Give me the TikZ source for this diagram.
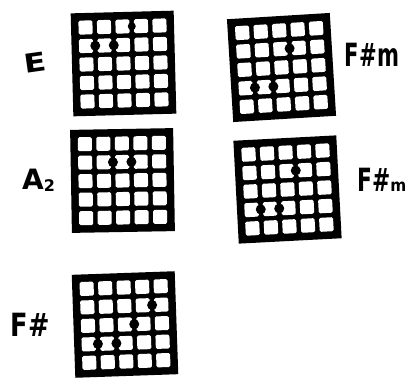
\documentclass[tikz,border=0pt]{standalone}
\usepackage{graphicx}
\usepackage{fontspec}
\setmainfont{DejaVu Sans}
\tikzset{
  gridbox/.style={fill=black, draw=none, minimum size=103pt, inner sep=0pt, outer sep=0pt, transform shape},
  cell/.style={fill=white, rounded corners=1.5pt},
  fingerdot/.style={fill=black},
  chordlabel/.style={inner sep=0pt, font=\bfseries}
}
\newcommand\chordgrid[5]{%
  \begin{scope}[shift={(#2,#3)}, rotate=#4]
    \node[gridbox] (#1) at (0,0) {};
    \foreach \c in {0,...,4}{\foreach \r in {0,...,4}{
      \fill[cell] ({-44+18.5*\c},{-44+18.5*\r}) rectangle ++(14,14);
    }}
    \foreach \k/\j in {#5}{
      \fill[fingerdot] ({18.5*\k-46.25},{18.5*\j-55.5}) circle[radius=5];
    }
  \end{scope}}
\begin{document}
\begin{tikzpicture}[x=1pt,y=-1pt]
  \fill[white] (0,0) rectangle (409,377);
  \useasboundingbox (0,0) rectangle (409,377);
  % grids
  \chordgrid{gE}{123.5}{63.5}{1.5}{1/2,2/2}
  \begin{scope}[shift={(123.5,63.5)}, rotate=1.5]
    \fill[fingerdot] ({18.5*3-46.25},-37) circle[radius=4];
  \end{scope}
  \chordgrid{gFsmA}{281.5}{67.5}{3.5}{3/2,1/4,2/4}
  \chordgrid{gA}{122.5}{180.5}{1}{2/2,3/2}
  \chordgrid{gFsmB}{287.5}{189.5}{3}{3/2,1/4,2/4}
  \chordgrid{gFs}{125}{324.5}{2}{4/2,3/3,1/4,2/4}
  % labels
  \node[chordlabel, rotate=8] (lE) at (35,63) {\fontsize{26}{26}\selectfont\scalebox{1.25}[1]{E}};
  \node[chordlabel] (lFsmA) at (372,55) {\fontsize{32}{32}\selectfont\scalebox{0.66}[1]{F\#m}};
  \node[chordlabel, anchor=base west] (lA) at (22,189) {\fontsize{28}{28}\selectfont A\raisebox{-2pt}{\fontsize{16}{16}\selectfont 2}};
  \node[chordlabel, anchor=base west] (lFsmB) at (357,191) {\fontsize{32}{32}\selectfont\scalebox{0.68}[1]{F\#}\fontsize{17}{17}\selectfont\scalebox{0.9}[1]{m}};
  \node[chordlabel] (lFs) at (30,325) {\fontsize{32}{32}\selectfont\scalebox{0.8}[1]{F\#}};
\end{tikzpicture}
\end{document}
